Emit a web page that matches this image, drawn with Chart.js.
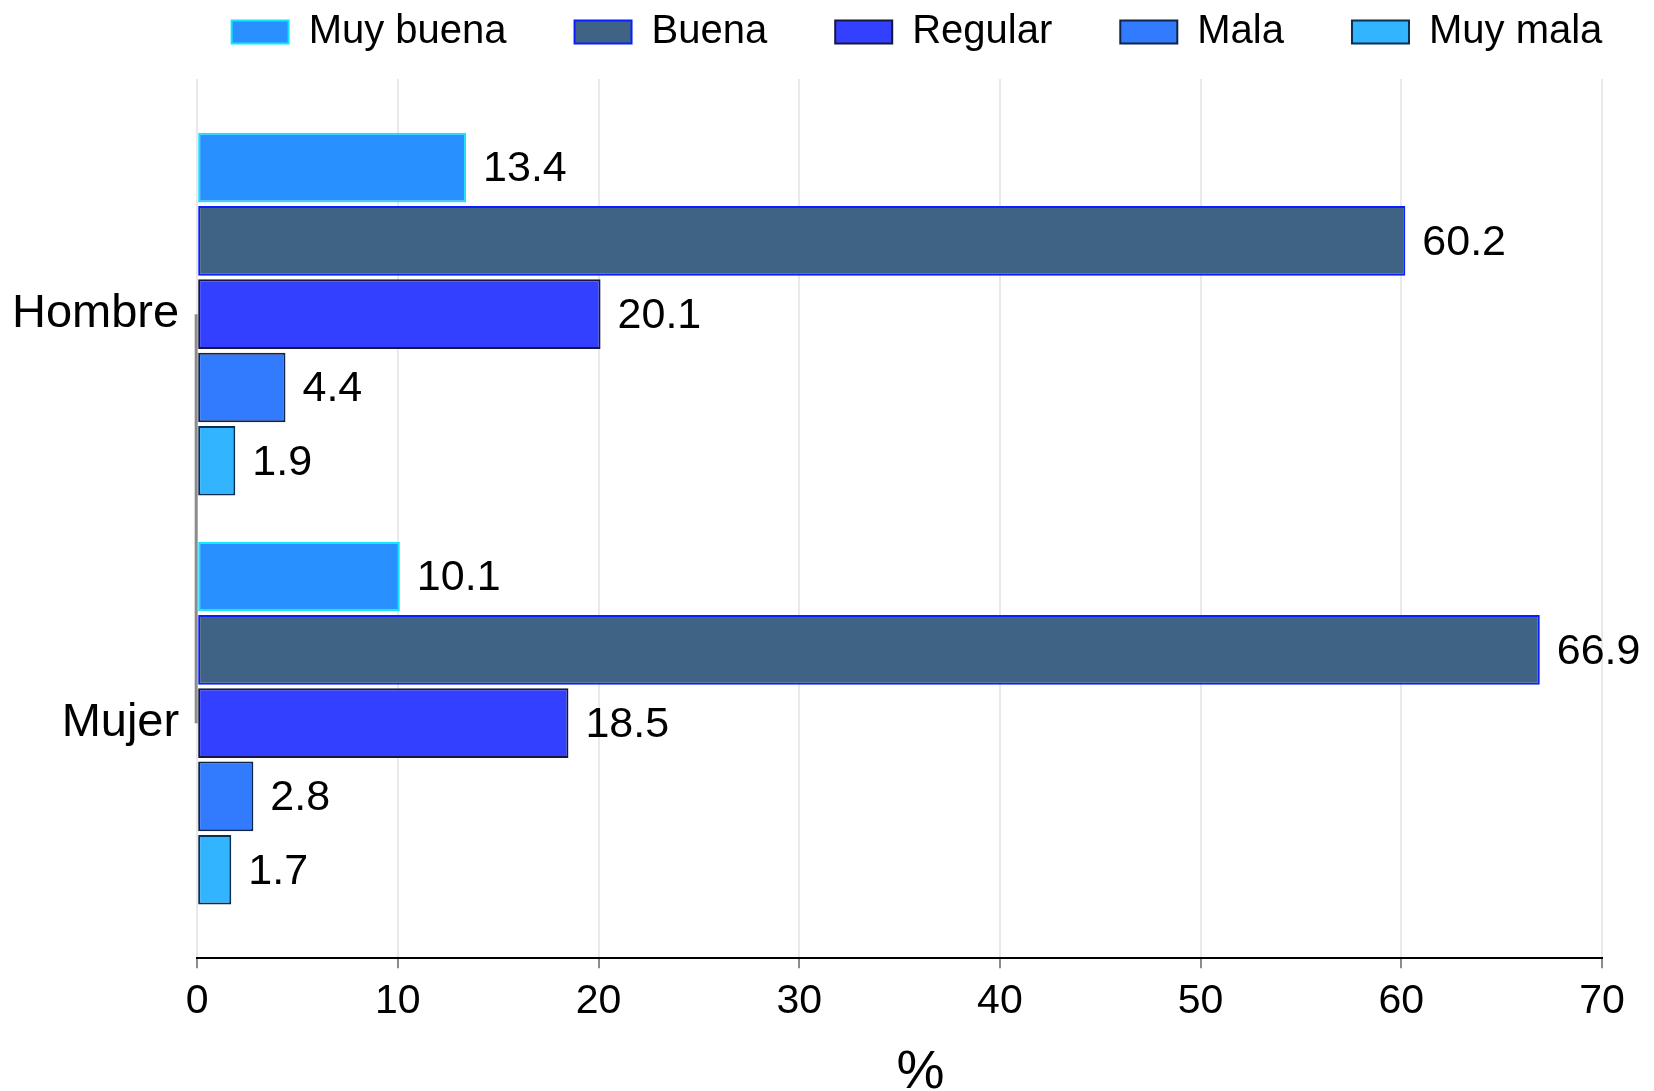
<!DOCTYPE html>
<html>
<head>
<meta charset="utf-8">
<script src="https://cdn.jsdelivr.net/npm/chart.js@4/dist/chart.umd.min.js"></script>
<style>
  html, body { margin: 0; padding: 0; background: #ffffff; }
  #wrap { width: 1654px; height: 1091px; position: relative; }
</style>
</head>
<body>
<div id="wrap"><canvas id="c" width="1654" height="1091"></canvas></div>
<script>
const categories = ['Hombre', 'Mujer'];
const seriesNames = ['Muy buena', 'Buena', 'Regular', 'Mala', 'Muy mala'];
const muyBuena = [13.4, 10.1];
const buena = [60.2, 66.9];
const regular = [20.1, 18.5];
const mala = [4.4, 2.8];
const muyMala = [1.9, 1.7];
const xTicks = [0, 10, 20, 30, 40, 50, 60, 70];
const xTitle = '%';

const seriesValues = [muyBuena, buena, regular, mala, muyMala];
const fills = ['#2891FF', '#3E6384', '#3440FF', '#327BFF', '#33B4FF'];
const borders = ['#12E6FF', '#0A1EFF', '#16163F', '#10244A', '#0C2E52'];

const FONT = "'Liberation Sans', Arial, Helvetica, sans-serif";
const CAT_PAD = 0.075;

const valueLabels = {
  id: 'valueLabels',
  afterDatasetsDraw(chart) {
    const ctx = chart.ctx;
    ctx.save();
    ctx.font = '43px ' + FONT;
    ctx.fillStyle = '#000';
    ctx.textAlign = 'left';
    ctx.textBaseline = 'middle';
    chart.data.datasets.forEach((ds, i) => {
      const meta = chart.getDatasetMeta(i);
      meta.data.forEach((el, j) => {
        ctx.fillText(ds.data[j].toFixed(1), el.x + 17, el.y + 2);
      });
    });
    ctx.restore();
  }
};

const yAxisLine = {
  id: 'yAxisLine',
  beforeDatasetsDraw(chart) {
    const y = chart.scales.y, x = chart.scales.x;
    const ctx = chart.ctx;
    const px = x.getPixelForValue(0);
    ctx.save();
    ctx.strokeStyle = '#8c8c8c';
    ctx.lineWidth = 3;
    ctx.beginPath();
    ctx.moveTo(px - 1, y.getPixelForValue(0));
    ctx.lineTo(px - 1, y.getPixelForValue(categories.length - 1));
    ctx.stroke();
    ctx.restore();
  }
};

const xTitleDraw = {
  id: 'xTitleDraw',
  afterDraw(chart) {
    const x = chart.scales.x;
    const ctx = chart.ctx;
    ctx.save();
    ctx.font = '54px ' + FONT;
    ctx.fillStyle = '#000';
    ctx.textAlign = 'center';
    ctx.textBaseline = 'alphabetic';
    ctx.fillText(xTitle, (x.left + x.right) / 2 + 21, chart.height - 3);
    ctx.restore();
  }
};

const legendPlace = {
  id: 'legendPlace',
  afterLayout(chart) {
    const lg = chart.legend;
    if (!lg) return;
    const pad = lg.options.labels.padding;
    lg.left = 0;
    lg.right = 1834;
    lg.top = 12 - pad;
  }
};

new Chart(document.getElementById('c'), {
  type: 'bar',
  data: {
    labels: categories,
    datasets: seriesNames.map((name, i) => ({
      label: name,
      data: seriesValues[i],
      backgroundColor: fills[i],
      borderColor: borders[i],
      borderWidth: 2,
      borderSkipped: false,
      categoryPercentage: 0.896,
      barPercentage: 0.95
    }))
  },
  plugins: [yAxisLine, valueLabels, legendPlace, xTitleDraw],
  options: {
    indexAxis: 'y',
    responsive: false,
    animation: false,
    devicePixelRatio: 1,
    layout: { padding: { top: -39, left: -6, right: 52, bottom: 0 } },
    plugins: {
      tooltip: { enabled: false },
      legend: {
        position: 'top',
        align: 'center',
        labels: {
          boxWidth: 57,
          boxHeight: 23,
          padding: 68,
          color: '#000',
          font: { family: FONT, size: 40 }
        }
      }
    },
    scales: {
      x: {
        type: 'linear',
        min: 0,
        max: 70,
        afterBuildTicks(scale) { scale.ticks = xTicks.map(v => ({ value: v })); },
        ticks: {
          color: '#000',
          padding: 8.5,
          font: { family: FONT, size: 41 }
        },
        grid: {
          color: '#e9e9e9',
          lineWidth: 2,
          drawTicks: true,
          tickLength: 10,
          tickColor: '#8c8c8c',
          tickWidth: 2
        },
        border: { display: true, color: '#000', width: 2 },
        title: {
          display: true,
          text: xTitle,
          color: 'rgba(0,0,0,0)',
          font: { family: FONT, size: 47, lineHeight: 1 },
          padding: { top: 9.5, bottom: 0 }
        }
      },
      y: {
        type: 'category',
        afterBuildTicks(scale) {
          scale._startValue = -0.5 - CAT_PAD;
          scale._valueRange = categories.length + 2 * CAT_PAD;
        },
        ticks: {
          color: '#000',
          padding: 18,
          font: { family: FONT, size: 47 }
        },
        grid: { display: false, drawTicks: false },
        border: { display: false }
      }
    }
  }
});
</script>
</body>
</html>
